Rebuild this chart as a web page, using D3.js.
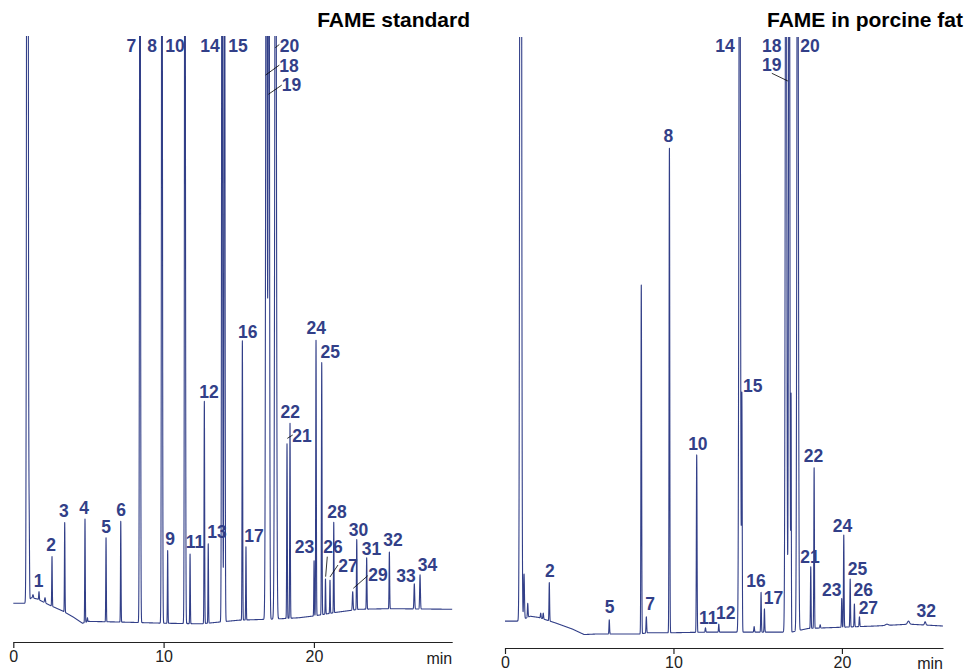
<!DOCTYPE html>
<html><head><meta charset="utf-8">
<script src="https://cdn.jsdelivr.net/npm/d3@7"></script>
<style>
body{margin:0;background:#fff;}
svg{display:block;font-family:"Liberation Sans",Arial,Helvetica,sans-serif;}
</style></head><body>
<svg id="chart" width="965" height="672"></svg>
<script>
// ================= DATA =================
const xTicks = [0, 10, 20];
const axisUnit = "min";
const panelTitles = ["FAME standard", "FAME in porcine fat"];

// Baseline drift, [retention time (min), signal]
const stdBaseline = [
  [0, 6.4], [0.84, 6.4], [1.2, 7.3], [1.6, 7.1], [2.4, 6.1], [3.3, 5.1], [4.0, 4.1],
  [4.6, 3.1], [5.0, 3.4], [7.0, 3.3], [10, 3.1], [12.5, 3.0], [15, 3.6], [17.5, 3.8],
  [19, 4.0], [20, 4.3], [21.5, 4.9], [23, 5.4], [25, 5.5], [29.2, 5.4]
];
const fatBaseline = [
  [0, 4.4], [0.85, 4.4], [1.5, 5.2], [2.0, 5.0], [3.0, 4.1], [4.0, 3.1], [4.7, 2.2],
  [5.5, 2.3], [8.0, 2.3], [8.5, 2.5], [10, 2.5], [12, 2.6], [15, 2.6], [17, 2.6],
  [18, 3.2], [20, 3.4], [22, 3.6], [24, 3.9], [26, 3.6]
];

// Peaks, [label, retention time (min), apex signal, width sigma (min)]
const stdPeaks = [
  ["", 0.845, 8.9, 0.01], ["", 0.93, 160, 0.04], ["", 0.95, 160, 0.04], ["", 1.06, 17.2, 0.02], ["", 1.31, 7.8, 0.03],
  ["1", 1.71, 8.3, 0.02], ["", 2.11, 7.3, 0.03], ["2", 2.575, 14.1, 0.018], ["3", 3.42, 19.7, 0.018],
  ["4", 4.77, 20.3, 0.018], ["", 4.93, 4.0, 0.02], ["5", 6.17, 17.2, 0.018], ["6", 7.15, 19.9, 0.018],
  ["7", 8.43, 160, 0.03], ["8", 9.89, 160, 0.03], ["9", 10.27, 15.1, 0.018], ["10", 11.42, 160, 0.03],
  ["11", 11.76, 14.5, 0.018], ["12", 12.71, 39.7, 0.02], ["13", 12.97, 16.2, 0.018],
  ["14", 13.89, 160, 0.03], ["15", 14.05, 160, 0.03], ["16", 15.24, 49.7, 0.02], ["17", 15.48, 15.7, 0.018],
  ["18", 16.84, 160, 0.045], ["19", 17.0, 160, 0.04], ["20", 17.45, 160, 0.05],
  ["21", 18.21, 32.7, 0.02], ["22", 18.41, 36.1, 0.02], ["23", 20.01, 13.4, 0.018],
  ["24", 20.14, 49.8, 0.02], ["25", 20.52, 46.1, 0.02], ["26", 20.77, 10.4, 0.018],
  ["27", 21.07, 10.2, 0.018], ["28", 21.32, 19.75, 0.018], ["29", 22.58, 8.3, 0.025],
  ["30", 22.85, 16.9, 0.02], ["31", 23.51, 13.9, 0.02], ["32", 25.02, 14.85, 0.02],
  ["33", 26.68, 9.6, 0.025], ["34", 27.06, 11.1, 0.025]
];
const fatPeaks = [
  ["", 0.92, 160, 0.04], ["", 0.94, 160, 0.04], ["", 1.13, 12.1, 0.025], ["", 1.35, 7.3, 0.02], ["", 2.12, 5.7, 0.02],
  ["", 2.27, 5.7, 0.02], ["2", 2.63, 10.7, 0.018], ["5", 6.19, 4.6, 0.018], ["", 8.09, 59.4, 0.02],
  ["7", 8.39, 5.1, 0.02], ["8", 9.76, 81.8, 0.02], ["10", 11.38, 31.6, 0.02], ["11", 11.9, 3.3, 0.02],
  ["12", 12.69, 3.9, 0.018], ["14", 13.93, 160, 0.04], ["15", 14.06, 41.1, 0.02], ["", 14.79, 3.5, 0.02],
  ["16", 15.2, 9.1, 0.018], ["17", 15.4, 6.4, 0.018], ["18", 16.68, 160, 0.04], ["19", 16.87, 160, 0.035],
  ["", 16.98, 40.6, 0.015], ["20", 17.37, 160, 0.04], ["21", 18.15, 13.3, 0.018], ["22", 18.35, 29.5, 0.018],
  ["", 18.71, 3.8, 0.02], ["23", 19.99, 8.1, 0.018], ["24", 20.11, 18.5, 0.018], ["25", 20.49, 11.3, 0.018],
  ["26", 20.74, 7.2, 0.018], ["27", 21.04, 5.1, 0.02], ["", 22.67, 3.9, 0.08], ["", 23.95, 4.4, 0.06],
  ["32", 24.94, 4.3, 0.04]
];

// ================= ANNOTATION LAYOUT (label anchor in chart units) =================
const stdLabelPos = [
  ["1", 1.68, 9.08], ["2", 2.51, 15.0], ["3", 3.37, 20.6], ["4", 4.71, 21.1], ["5", 6.17, 18.0],
  ["6", 7.17, 20.8], ["7", 7.86, 97.4], ["8", 9.23, 97.4], ["9", 10.43, 16.0], ["10", 10.76, 97.4],
  ["11", 12.09, 15.5], ["12", 13.02, 40.3], ["13", 13.55, 17.2], ["14", 13.09, 97.4], ["15", 14.95, 97.4],
  ["16", 15.6, 50.2], ["17", 16.01, 16.5], ["18", 18.34, 94.1], ["19", 18.51, 90.9], ["20", 18.38, 97.4],
  ["21", 19.21, 33.0], ["22", 18.43, 37.0], ["23", 19.37, 14.7], ["24", 20.16, 50.8], ["25", 21.09, 46.9],
  ["26", 21.27, 14.7], ["27", 22.27, 11.6], ["28", 21.54, 20.5], ["29", 24.26, 10.1], ["30", 22.97, 17.5],
  ["31", 23.83, 14.4], ["32", 25.26, 15.8], ["33", 26.13, 9.9], ["34", 27.56, 11.7]
];
const stdLeaders = [
  [16.79, 93.56, 17.70, 95.2], [16.97, 90.38, 17.86, 91.9], [17.43, 98.07, 17.70, 98.6],
  [18.23, 33.6, 18.59, 34.16], [20.89, 14.08, 20.78, 10.78], [21.07, 10.73, 21.6, 12.7],
  [22.62, 8.86, 23.58, 10.94]
];
const fatLabelPos = [
  ["2", 2.67, 11.6], ["5", 6.21, 5.73], ["7", 8.61, 6.22], ["8", 9.70, 82.8], ["10", 11.45, 32.4],
  ["11", 12.07, 3.93], ["12", 13.1, 4.75], ["14", 13.06, 97.5], ["15", 14.71, 41.9], ["16", 14.9, 9.98],
  ["17", 15.94, 7.2], ["18", 15.84, 97.5], ["19", 15.84, 94.4], ["20", 18.11, 97.5], ["21", 18.11, 13.9],
  ["22", 18.31, 30.4], ["23", 19.4, 8.5], ["24", 20.04, 19.0], ["25", 20.92, 11.9], ["26", 21.26, 8.45],
  ["27", 21.57, 5.6], ["32", 25.0, 5.07]
];
const fatLeaders = [
  [15.84, 94.06, 16.79, 92.8]
];

// ================= LAYOUT / STYLE =================
const ink = "#323f88";
const panels = [
  { title: panelTitles[0], titleX: 470, baseline: stdBaseline, peaks: stdPeaks, labels: stdLabelPos, leaders: stdLeaders,
    tMax: 29.2, xRange: [13.3, 452.2], yRange: [642, 36], unitY: 663.5 },
  { title: panelTitles[1], titleX: 963, baseline: fatBaseline, peaks: fatPeaks, labels: fatLabelPos, leaders: fatLeaders,
    tMax: 26.0, xRange: [505, 943], yRange: [648, 37], unitY: 669 }
];

const svg = d3.select("#chart");

function buildTrace(baseline, peaks, tMax) {
  const base = d3.scaleLinear()
    .domain(baseline.map(d => d[0]))
    .range(baseline.map(d => d[1]))
    .clamp(true);
  const step = 0.003;
  const times = d3.range(0, tMax + step / 2, step).concat(peaks.map(p => p[1]));
  times.sort((a, b) => a - b);
  return times.map(t => {
    let s = base(t);
    for (const p of peaks) {
      const dt = t - p[1];
      if (Math.abs(dt) > 8 * p[3]) continue;
      const h = p[2] - base(p[1]);
      s += h * Math.exp(-0.5 * (dt / p[3]) * (dt / p[3]));
    }
    return [t, s];
  });
}

panels.forEach((P, i) => {
  const x = d3.scaleLinear().domain([0, P.tMax]).range(P.xRange);
  const y = d3.scaleLinear().domain([0, 100]).range(P.yRange);
  const g = svg.append("g");

  const clipId = "clip" + i;
  svg.append("defs").append("clipPath").attr("id", clipId)
    .append("rect")
    .attr("x", P.xRange[0] - 2).attr("y", P.yRange[1])
    .attr("width", P.xRange[1] - P.xRange[0] + 4)
    .attr("height", P.yRange[0] - P.yRange[1]);

  const trace = buildTrace(P.baseline, P.peaks, P.tMax);
  const line = d3.line().x(d => x(d[0])).y(d => y(d[1]));
  g.append("path")
    .attr("clip-path", `url(#${clipId})`)
    .attr("d", line(trace))
    .attr("fill", "none")
    .attr("stroke", ink)
    .attr("stroke-width", 1.1)
    .attr("stroke-linejoin", "round");

  // axis
  const axis = d3.axisBottom(x).tickValues(xTicks).tickSize(6).tickSizeOuter(0).tickFormat(d3.format("d"));
  const ag = g.append("g").attr("transform", `translate(0,${P.yRange[0]})`).call(axis);
  ag.select(".domain").attr("stroke", "#222").attr("stroke-width", 1.2);
  ag.selectAll(".tick line").attr("stroke", "#222").attr("stroke-width", 1.2);
  ag.selectAll(".tick text").attr("fill", "#222").attr("font-size", 16)
    .attr("font-family", "'Liberation Sans', Arial, sans-serif");

  g.append("text")
    .attr("x", P.xRange[1]).attr("y", P.unitY)
    .attr("text-anchor", "end")
    .attr("font-size", 16).attr("fill", "#222")
    .text(axisUnit);

  // leaders
  g.selectAll("line.leader").data(P.leaders).join("line")
    .attr("class", "leader")
    .attr("x1", d => x(d[0])).attr("y1", d => y(d[1]))
    .attr("x2", d => x(d[2])).attr("y2", d => y(d[3]))
    .attr("stroke", "#000").attr("stroke-width", 0.8);

  // peak labels
  g.selectAll("text.pk").data(P.labels).join("text")
    .attr("class", "pk")
    .attr("x", d => x(d[1])).attr("y", d => y(d[2]))
    .attr("text-anchor", "middle")
    .attr("font-size", 17.5).attr("font-weight", "bold")
    .attr("fill", ink)
    .text(d => d[0]);

  // title
  g.append("text")
    .attr("x", P.titleX).attr("y", 27)
    .attr("text-anchor", "end")
    .attr("font-size", 21).attr("font-weight", "bold")
    .attr("fill", "#000")
    .text(P.title);
});
</script>
</body></html>
